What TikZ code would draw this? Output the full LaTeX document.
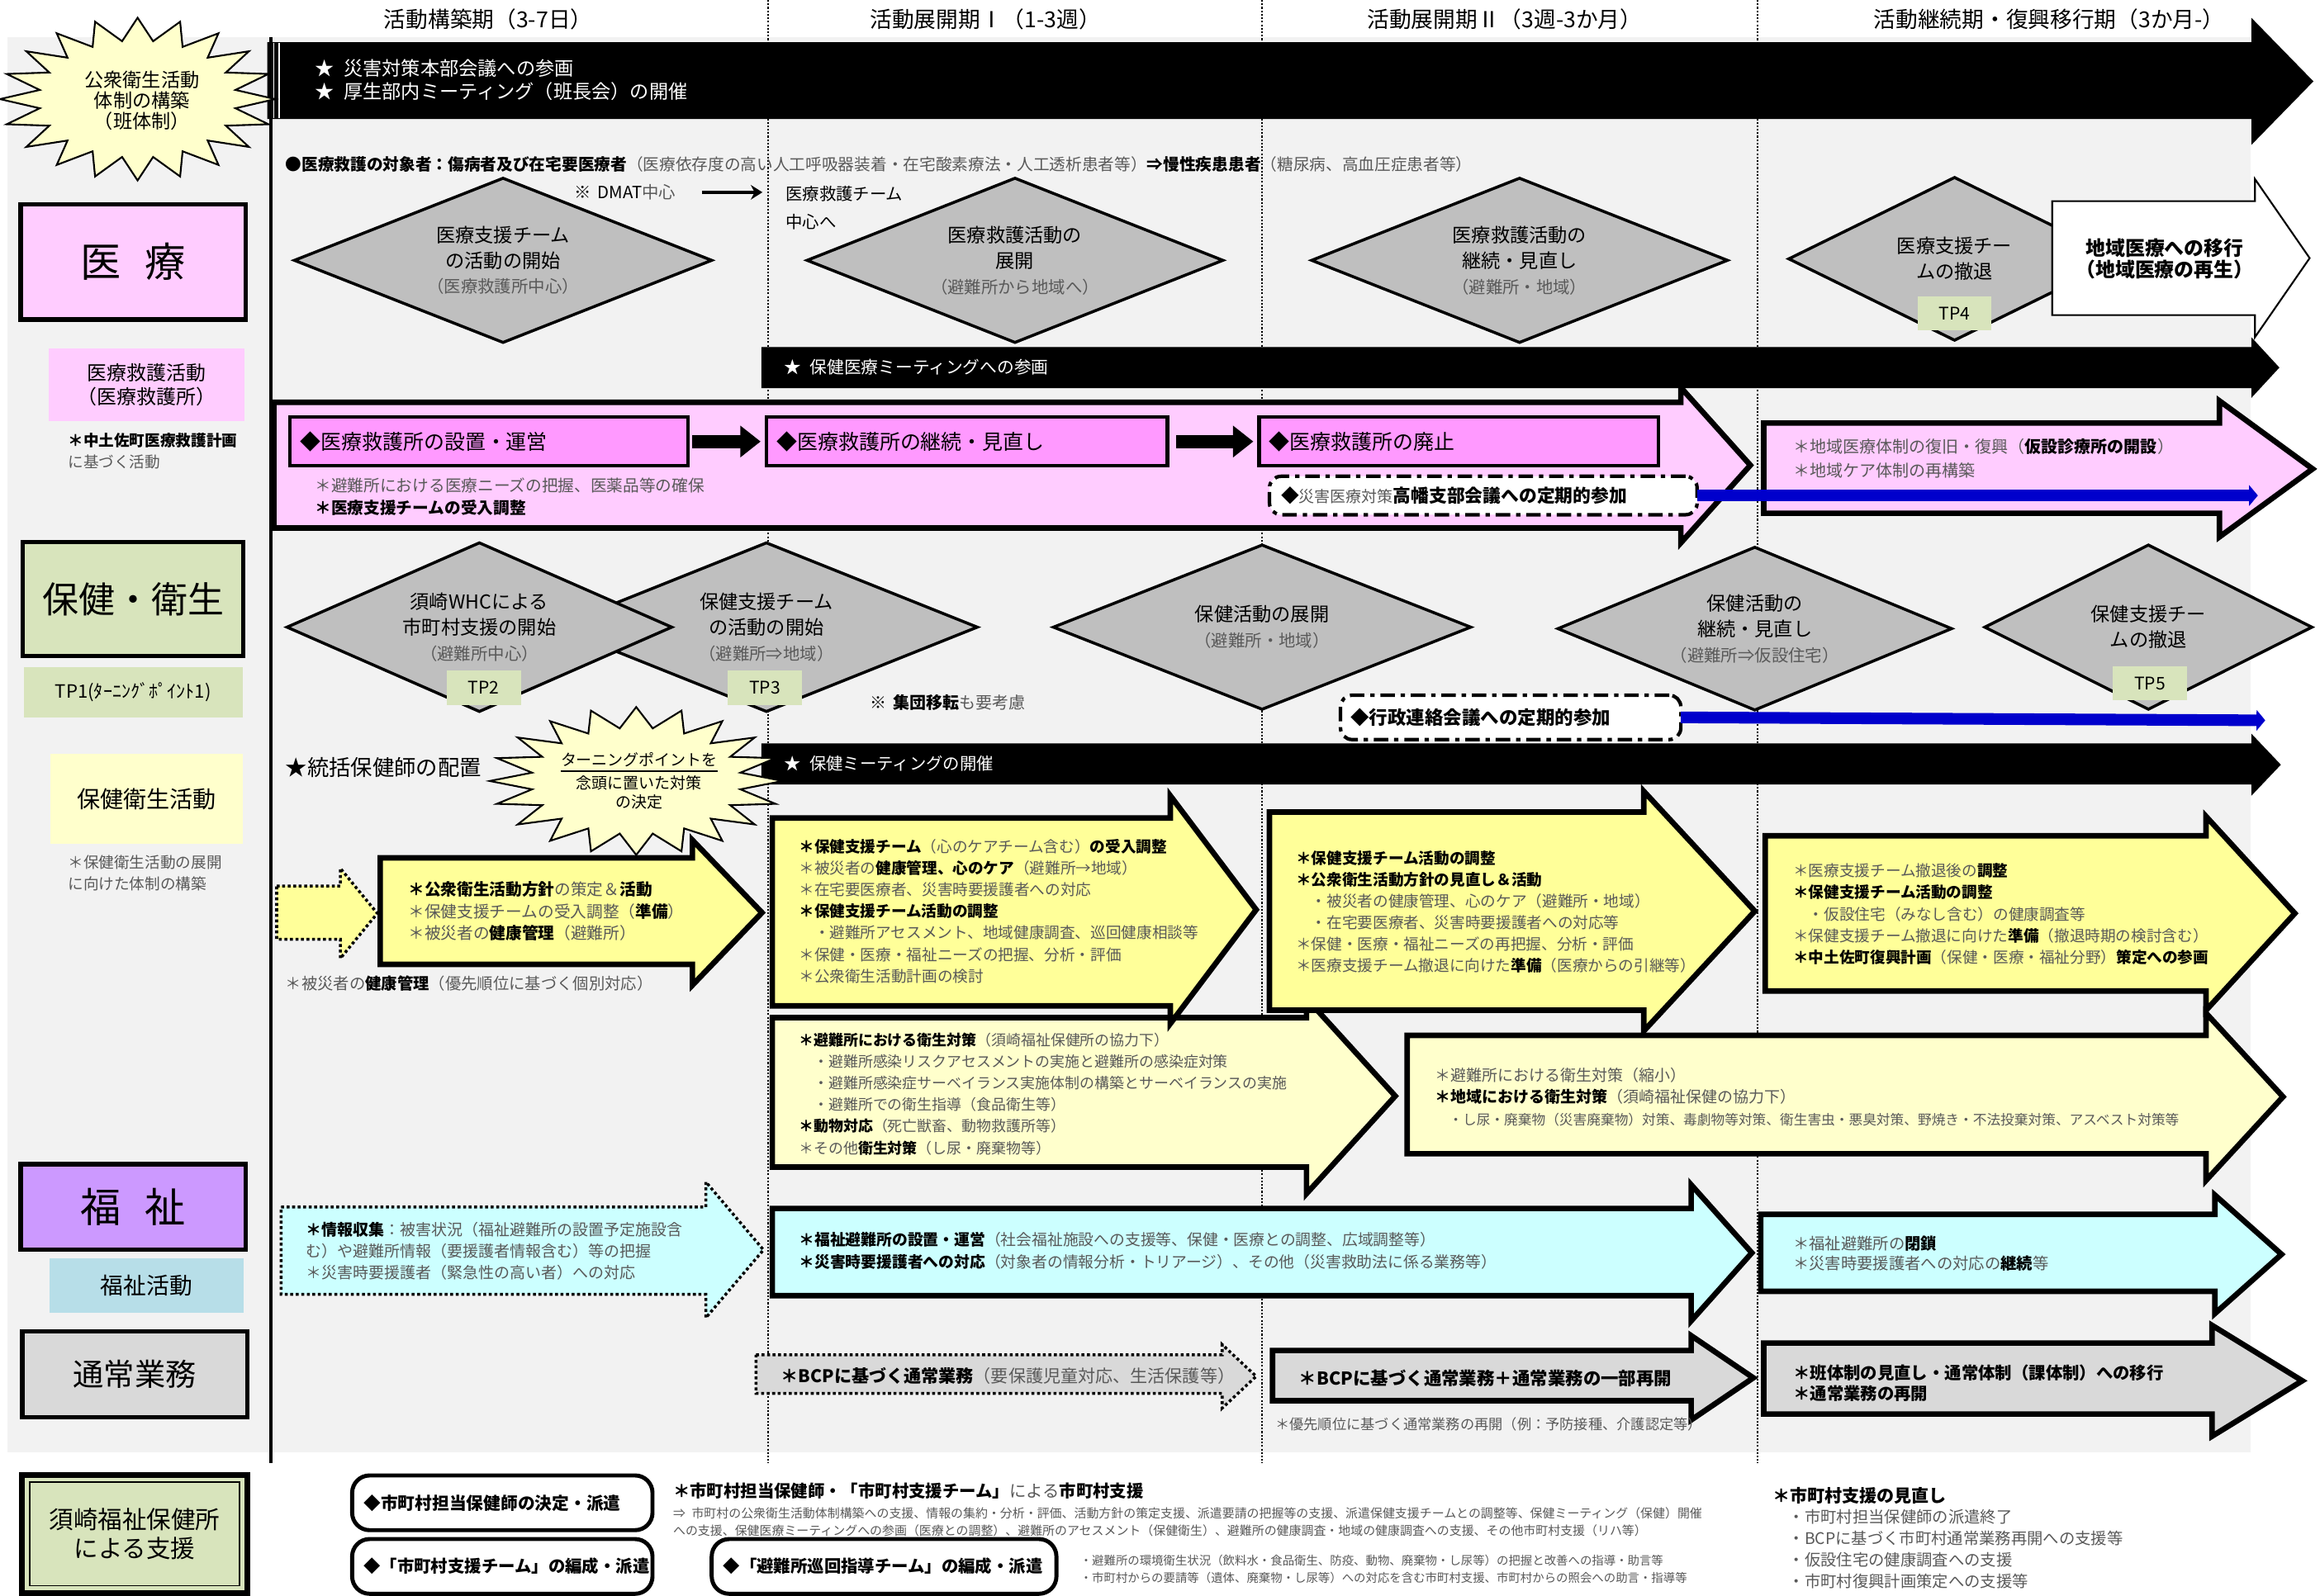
\documentclass[tikz,border=0pt]{standalone}
\usepackage{fontspec}
\setmainfont{Noto Sans CJK JP}
\usetikzlibrary{shapes.geometric,arrows.meta}

\definecolor{panel}{HTML}{F2F2F2}
\definecolor{pinkbg}{HTML}{FFCCFF}
\definecolor{pinkbox}{HTML}{FF99FF}
\definecolor{tpgreen}{HTML}{D8E4BC}
\definecolor{yel}{HTML}{FFFF99}
\definecolor{lyel}{HTML}{FFFFCC}
\definecolor{purp}{HTML}{CC99FF}
\definecolor{ltblue}{HTML}{B7DEE8}
\definecolor{cyanbg}{HTML}{CCFFFF}
\definecolor{graybg}{HTML}{D9D9D9}
\definecolor{diagray}{HTML}{BFBFBF}
\definecolor{bluec}{HTML}{0000CC}
\definecolor{txtgray}{HTML}{595959}

\newcommand{\pxu}{0.017915cm}
\newcommand{\fs}[2]{\fontsize{#1pt}{#2pt}\selectfont}
\newcommand{\gr}[1]{\textcolor{txtgray}{#1}}
% block arrow: [style] left, top, bottom, head x, head top, head bottom, tip x
\newcommand{\barrow}[8][]{%
  \draw[#1] (#2,#3) -- (#5,#3) -- (#5,#6) -- (#8,{(#6+#7)/2}) -- (#5,#7) -- (#5,#4) -- (#2,#4) -- cycle;}
% starburst outline: cx, cy, rx, ry
\newcommand{\burst}[4]{%
  \draw[burst] plot[variable=\k, samples at={0,...,39}] ({#1+(1-0.28*mod(\k,2))*#3*cos(\k*9)},{#2+(1-0.28*mod(\k,2))*#4*sin(\k*9)}) -- cycle;}

\begin{document}
\begin{tikzpicture}[x=\pxu, y=-\pxu,
  every node/.style={inner sep=0pt, outer sep=0pt},
  hdr/.style={font=\fs{7.6}{9}},
  lbl/.style={draw, line width=1.5pt},
  dia/.style={diamond, draw, fill=diagray, line width=1pt},
  dtxt/.style={align=center, font=\fs{6.6}{8.8}},
  tp/.style={fill=tpgreen, minimum width=50*\pxu, minimum height=23*\pxu, font=\fs{6}{7}},
  note/.style={anchor=west, align=left},
  wtxt/.style={anchor=west, text=white},
  burst/.style={fill=lyel, draw, line width=0.6pt},
  thickarr/.style={draw, line width=1.9pt},
  dotarr/.style={draw, line width=1pt, dash pattern=on 1pt off 0.9pt},
  pbox/.style={fill=pinkbox, draw, line width=1.2pt, minimum height=33*\pxu},
  ptxt/.style={anchor=west, font=\fs{7.1}{8}},
  ddbox/.style={fill=white, draw, line width=1.2pt, rounded corners=4pt, dash pattern=on 5pt off 2pt on 1.5pt off 2pt},
  rbox/.style={fill=white, draw, line width=1.4pt, rounded corners=6pt},
  blkarr/.style={line width=4.6pt, -{Triangle[length=7pt,width=10.5pt]}},
  bluearr/.style={draw=bluec, line width=4pt, -{Triangle[length=3pt,width=7pt]}},
  divider/.style={line width=0.5pt, dash pattern=on 0.6pt off 0.6pt}]

\useasboundingbox (0,0) rectangle (1568,1079);
\fill[white] (0,0) rectangle (1568,1079);
\fill[panel] (5,25) rectangle (1521,982);
\foreach \xx in {519,853,1188} \draw[divider] (\xx,0) -- (\xx,989);
\draw[line width=1.3pt] (183,25) -- (183,989);

% phases
\node[hdr] (h1) at (330,13) {活動構築期（3-7日）};
\node[hdr] (h2) at (666,13) {活動展開期Ⅰ（1-3週）};
\node[hdr] (h3) at (1017,13) {活動展開期Ⅱ（3週-3か月）};
\node[hdr] (h4) at (1385,13) {活動継続期・復興移行期（3か月-）};

% top bar
\barrow[fill=black]{181}{29}{80}{1522}{13}{97}{1563}
\draw[white, line width=0.5pt] (185,29) -- (185,80) (188.5,29) -- (188.5,80);
\node[wtxt, font=\fs{6.6}{8}] (b1) at (213,46) {★\hspace{0.5em}災害対策本部会議への参画};
\node[wtxt, font=\fs{6.6}{8}] (b2) at (213,62) {★\hspace{0.5em}厚生部内ミーティング（班長会）の開催};

\burst{93}{67}{93}{55}
\node[align=center, font=\fs{6.6}{7.1}] (s1) at (96,68) {公衆衛生活動\\体制の構築\\（班体制）};

% row labels
\node[lbl, fill=pinkbg, minimum width=152*\pxu, minimum height=78*\pxu, font=\fs{14}{16}] (iryo) at (90,177) {医\hspace{0.6em}療};
\node[fill=pinkbg, minimum width=132*\pxu, minimum height=49*\pxu, align=center, font=\fs{6.8}{8.2}] (iryolab) at (99,260) {医療救護活動\\（医療救護所）};
\node[note, font=\fs{5.3}{7.6}] (iryonote) at (46,305) {\textbf{＊中土佐町医療救護計画}\\\gr{に基づく活動}};
\node[lbl, fill=tpgreen, minimum width=149*\pxu, minimum height=77*\pxu, font=\fs{12.5}{14}] (hoken) at (90,405) {保健・衛生};
\node[fill=tpgreen, minimum width=148*\pxu, minimum height=34*\pxu, font=\fs{6.3}{7}] (tp1) at (90,468) {TP1(ﾀｰﾆﾝｸﾞﾎﾟｲﾝﾄ1)};
\node[fill=lyel, minimum width=130*\pxu, minimum height=61*\pxu, font=\fs{8}{9}] (hokenlab) at (99,540) {保健衛生活動};
\node[note, font=\fs{5.3}{7.4}] (hokennote) at (46,590) {\gr{＊保健衛生活動の展開}\\\gr{に向けた体制の構築}};
\node[lbl, fill=purp, minimum width=152*\pxu, minimum height=58*\pxu, font=\fs{14}{16}] (fuku) at (90,816) {福\hspace{0.6em}祉};
\node[fill=ltblue, minimum width=131*\pxu, minimum height=37*\pxu, font=\fs{7.9}{9}] (fukulab) at (99,869) {福祉活動};
\node[lbl, fill=graybg, minimum width=152*\pxu, minimum height=58*\pxu, font=\fs{10.6}{12}] (tsujo) at (91,929) {通常業務};
\node[lbl, line width=2pt, fill=tpgreen, minimum width=152*\pxu, minimum height=80*\pxu, align=center, font=\fs{8.4}{10.2}] (susaki) at (91,1037) {須崎福祉保健所\\による支援};
\draw[line width=0.5pt] ([shift={(5,5)}]susaki.north west) rectangle ([shift={(-5,-5)}]susaki.south east);

% medical row
\node[note, font=\fs{5.6}{7}] (target) at (193,111) {\textbf{●医療救護の対象者：傷病者及び在宅要医療者}\gr{（医療依存度の高い人工呼吸器装着・在宅酸素療法・人工透析患者等）}\textbf{⇒慢性疾患患者}\gr{（糖尿病、高血圧症患者等）}};
\node[note, font=\fs{5.8}{7}] (dmat) at (388,130) {※\hspace{0.4em}DMAT\gr{中心}};
\node[note, font=\fs{5.8}{9.7}] (kyugo) at (531,140.5) {医療救護チーム\\中心へ};
\draw[line width=1.2pt, -{Stealth[length=4pt,width=5pt]}, shorten <=9pt, shorten >=8pt] (dmat.east) -- (dmat.east -| kyugo.west);

\node[dia, minimum width=282*\pxu, minimum height=111*\pxu] (d1) at (340,176) {};
\node[dtxt] (t1) at (d1) {医療支援チーム\\の活動の開始\\{\fs{5.8}{8.8}\gr{（医療救護所中心）}}};
\node[dia, minimum width=281*\pxu, minimum height=111*\pxu] (d2) at (686,176) {};
\node[dtxt] (t2) at (d2) {医療救護活動の\\展開\\{\fs{5.8}{8.8}\gr{（避難所から地域へ）}}};
\node[dia, minimum width=281*\pxu, minimum height=111*\pxu] (d3) at (1027,176) {};
\node[dtxt] (t3) at (d3) {医療救護活動の\\継続・見直し\\{\fs{5.8}{8.8}\gr{（避難所・地域）}}};
\node[dia, minimum width=224*\pxu, minimum height=110*\pxu] (d4) at (1321,175) {};
\node[dtxt] (t4) at (d4) {医療支援チー\\ムの撤退};
\node[tp] (tp4) at (1321,212) {TP4};
\barrow[fill=white, draw, line width=0.6pt]{1387}{136}{213}{1524}{121}{228}{1561}
\node[align=center, font=\bfseries\fs{6.8}{7.6}] (chiiki) at (1463,175) {地域医療への移行\\（地域医療の再生）};

\barrow[fill=black]{515}{235}{262}{1522}{229}{268}{1540}
\node[wtxt, font=\fs{5.9}{7}] (m1) at (530,248) {★\hspace{0.5em}保健医療ミーティングへの参画};

\barrow[thickarr, fill=pinkbg]{185}{272}{357}{1136}{262}{367}{1183}
\node[pbox, minimum width=269*\pxu] (pb1) at (330.5,298.5) {};
\node[ptxt] (pt1) at ([xshift=3.5pt]pb1.west) {◆医療救護所の設置・運営};
\node[pbox, minimum width=271*\pxu] (pb2) at (653.5,298.5) {};
\node[ptxt] (pt2) at ([xshift=3.5pt]pb2.west) {◆医療救護所の継続・見直し};
\node[pbox, minimum width=270*\pxu] (pb3) at (986,298.5) {};
\node[ptxt] (pt3) at ([xshift=3.5pt]pb3.west) {◆医療救護所の廃止};
\draw[blkarr, shorten <=1.5pt, shorten >=2pt] (pb1.east) -- (pb2.west);
\draw[blkarr, shorten <=3pt, shorten >=2pt] (pb2.east) -- (pb3.west);
\node[note, font=\fs{5.6}{7.6}] (pnote) at (213,336) {\gr{＊避難所における医療ニーズの把握、医薬品等の確保}\\\textbf{＊医療支援チームの受入調整}};

\barrow[thickarr, fill=pinkbg]{1192}{286}{347}{1500}{271}{363}{1563}
\node[note, font=\fs{5.7}{8.1}] (p2note) at (1212,310) {\gr{＊地域医療体制の復旧・復興（}\textbf{仮設診療所の開設}\gr{）}\\\gr{＊地域ケア体制の再構築}};

\node[ddbox, minimum width=289*\pxu, minimum height=26*\pxu] (kb1) at (1002.5,335) {};
\node[anchor=west, font=\fs{6.2}{7}] (kt1) at ([xshift=4pt]kb1.west) {◆{\fs{5.4}{7}\gr{災害医療対策}}\textbf{高幡支部会議への定期的参加}};
\coordinate (bt1) at (1526,335);
\draw[bluearr] (kb1.east) -- (bt1);

% health row
\node[dia, minimum width=285*\pxu, minimum height=114*\pxu] (d6) at (518,424) {};
\node[dia, minimum width=260*\pxu, minimum height=114*\pxu] (d5) at (324,424) {};
\node[dtxt] (t5) at (d5) {須崎WHCによる\\市町村支援の開始\\{\fs{5.8}{8.8}\gr{（避難所中心）}}};
\node[dtxt] (t6) at (d6) {保健支援チーム\\の活動の開始\\{\fs{5.8}{8.8}\gr{（避難所⇒地域）}}};
\node[tp] (tp2) at (327,465) {TP2};
\node[tp] (tp3) at (517,465) {TP3};
\node[note, font=\fs{5.7}{7}] (shudan) at (588,475) {\textbf{※\hspace{0.4em}集団移転}\gr{も要考慮}};
\node[dia, minimum width=282*\pxu, minimum height=111*\pxu] (d7) at (853,424) {};
\node[dtxt] (t7) at (d7) {保健活動の展開\\{\fs{5.8}{8.8}\gr{（避難所・地域）}}};
\node[dia, minimum width=266*\pxu, minimum height=110*\pxu] (d8) at (1186,425) {};
\node[dtxt] (t8) at (d8) {保健活動の\\継続・見直し\\{\fs{5.8}{8.8}\gr{（避難所⇒仮設住宅）}}};
\node[dia, minimum width=221*\pxu, minimum height=111*\pxu] (d9) at (1452,424) {};
\node[dtxt] (t9) at (d9) {保健支援チー\\ムの撤退};
\node[tp] (tp5) at (1453,462) {TP5};

\node[ddbox, minimum width=230*\pxu, minimum height=30*\pxu] (kb2) at (1021,485) {};
\node[anchor=west, font=\fs{6.4}{7}] (kt2) at ([xshift=3.5pt]kb2.west) {\textbf{◆行政連絡会議への定期的参加}};
\coordinate (bt2) at (1531,487);
\draw[bluearr] (kb2.east) -- (bt2);

\barrow[fill=black]{515}{503}{530}{1522}{497}{537}{1541}
\node[wtxt, font=\fs{5.8}{7}] (m2) at (530,516) {★\hspace{0.5em}保健ミーティングの開催};
\node[note, font=\fs{7.5}{8}] (haichi) at (193,519) {★統括保健師の配置};
\burst{430}{528}{99}{50}
\node[align=center, font=\fs{5.4}{6.6}] (s2) at (432,528) {\underline{ターニングポイントを}\\念頭に置いた対策\\の決定};

% health activities
\barrow[dotarr, fill=yel]{187}{599}{635}{230}{587}{648}{255}
\barrow[thickarr, fill=yel]{257}{580}{652}{468}{568}{666}{515}
\node[note, font=\fs{5.6}{7.65}] (ta) at (276,616) {\textbf{＊公衆衛生活動方針}\gr{の策定＆}\textbf{活動}\\\gr{＊保健支援チームの受入調整（}\textbf{準備}\gr{）}\\\gr{＊被災者の}\textbf{健康管理}\gr{（避難所）}};
\node[note, font=\fs{5.5}{7}] (tanote) at (193,665) {\gr{＊被災者の}\textbf{健康管理}\gr{（優先順位に基づく個別対応）}};

\barrow[thickarr, fill=lyel]{522}{688}{789}{883}{675}{807}{943}
\node[note, font=\fs{5.1}{7.45}] (te) at (540,739.5) {\textbf{＊避難所における衛生対策}\gr{（須崎福祉保健所の協力下）}\\
\gr{\hspace*{1em}・避難所感染リスクアセスメントの実施と避難所の感染症対策}\\
\gr{\hspace*{1em}・避難所感染症サーベイランス実施体制の構築とサーベイランスの実施}\\
\gr{\hspace*{1em}・避難所での衛生指導（食品衛生等）}\\
\textbf{＊動物対応}\gr{（死亡獣畜、動物救護所等）}\\
\gr{＊その他}\textbf{衛生対策}\gr{（し尿・廃棄物等）}};
\barrow[thickarr, fill=lyel]{951}{700}{780}{1491}{685}{798}{1543}
\node[note, font=\fs{5.4}{7.5}] (tf) at (970,741.5) {\gr{＊避難所における衛生対策（縮小）}\\
\textbf{＊地域における衛生対策}\gr{（須崎福祉保健の協力下）}\\
{\fs{4.75}{7.5}\gr{\hspace*{1em}・し尿・廃棄物（災害廃棄物）対策、毒劇物等対策、衛生害虫・悪臭対策、野焼き・不法投棄対策、アスベスト対策等}}};

\barrow[thickarr, fill=yel]{522}{553}{680}{791}{538}{692}{849}
\node[note, font=\fs{5.3}{7.45}] (tb) at (540,616) {\textbf{＊保健支援チーム}\gr{（心のケアチーム含む）}\textbf{の受入調整}\\
\gr{＊被災者の}\textbf{健康管理、心のケア}\gr{（避難所→地域）}\\
\gr{＊在宅要医療者、災害時要援護者への対応}\\
\textbf{＊保健支援チーム活動の調整}\\
\gr{\hspace*{1em}・避難所アセスメント、地域健康調査、巡回健康相談等}\\
\gr{＊保健・医療・福祉ニーズの把握、分析・評価}\\
\gr{＊公衆衛生活動計画の検討}};
\barrow[thickarr, fill=yel]{858}{549}{683}{1111}{535}{697}{1186}
\node[note, font=\fs{5.3}{7.45}] (tc) at (876,616.5) {\textbf{＊保健支援チーム活動の調整}\\
\textbf{＊公衆衛生活動方針の見直し＆活動}\\
\gr{\hspace*{1em}・被災者の健康管理、心のケア（避難所・地域）}\\
\gr{\hspace*{1em}・在宅要医療者、災害時要援護者への対応等}\\
\gr{＊保健・医療・福祉ニーズの再把握、分析・評価}\\
\gr{＊医療支援チーム撤退に向けた}\textbf{準備}\gr{（医療からの引継等）}};
\barrow[thickarr, fill=yel]{1193}{565}{670}{1491}{552}{683}{1551}
\node[note, font=\fs{5.3}{7.45}] (td) at (1212,618) {\gr{＊医療支援チーム撤退後の}\textbf{調整}\\
\textbf{＊保健支援チーム活動の調整}\\
\gr{\hspace*{1em}・仮設住宅（みなし含む）の健康調査等}\\
\gr{＊保健支援チーム撤退に向けた}\textbf{準備}\gr{（撤退時期の検討含む）}\\
\textbf{＊中土佐町復興計画}\gr{（保健・医療・福祉分野）}\textbf{策定への参画}};

% welfare
\barrow[dotarr, fill=cyanbg]{190}{816}{875}{477}{799}{891}{516}
\node[note, font=\fs{5.4}{7.4}] (tg) at (207,846) {\textbf{＊情報収集}\gr{：被害状況（福祉避難所の設置予定施設含}\\
\gr{む）や避難所情報（要援護者情報含む）等の把握}\\
\gr{＊災害時要援護者（緊急性の高い者）への対応}};
\barrow[thickarr, fill=cyanbg]{522}{817}{876}{1143}{801}{893}{1184}
\node[note, font=\fs{5.35}{7.6}] (th) at (540,845.5) {\textbf{＊福祉避難所の設置・運営}\gr{（社会福祉施設への支援等、保健・医療との調整、広域調整等）}\\
\textbf{＊災害時要援護者への対応}\gr{（対象者の情報分析・トリアージ）、その他（災害救助法に係る業務等）}};
\barrow[thickarr, fill=cyanbg]{1190}{821}{873}{1497}{808}{888}{1542}
\node[note, font=\fs{5.5}{7}] (ti) at (1212,847.5) {\gr{＊福祉避難所の}\textbf{閉鎖}\\\gr{＊災害時要援護者への対応の}\textbf{継続}\gr{等}};

% routine work
\barrow[dotarr, fill=graybg]{511}{916}{942}{826}{909}{952}{849}
\node[note, font=\fs{6}{7}] (tj) at (528,930) {\textbf{＊BCPに基づく通常業務}\gr{（要保護児童対応、生活保護等）}};
\barrow[thickarr, fill=graybg]{860}{913}{947}{1143}{903}{960}{1185}
\node[note, font=\fs{6.1}{7}] (tk) at (878,932) {\textbf{＊BCPに基づく通常業務＋通常業務の一部再開}};
\node[note, font=\fs{4.9}{6}] (tknote) at (862,963) {\gr{＊優先順位に基づく通常業務の再開（例：予防接種、介護認定等）}};
\barrow[thickarr, fill=graybg]{1192}{908}{956}{1495}{896}{971}{1556}
\node[note, font=\fs{5.8}{7.1}] (tl) at (1212,935) {\textbf{＊班体制の見直し・通常体制（課体制）への移行}\\\textbf{＊通常業務の再開}};

% support by health office
\node[rbox, minimum width=203*\pxu, minimum height=37*\pxu] (rb1) at (339.5,1016) {};
\node[anchor=west, font=\fs{5.9}{7}] (rt1) at ([xshift=4pt]rb1.west) {\textbf{◆市町村担当保健師の決定・派遣}};
\node[rbox, minimum width=203*\pxu, minimum height=37*\pxu] (rb2) at (339.5,1059) {};
\node[anchor=west, font=\fs{5.8}{7}] (rt2) at ([xshift=4pt]rb2.west) {\textbf{◆「市町村支援チーム」の編成・派遣}};
\node[rbox, minimum width=233*\pxu, minimum height=37*\pxu] (rb3) at (597.5,1059) {};
\node[anchor=west, font=\fs{5.8}{7}] (rt3) at ([xshift=4pt]rb3.west) {\textbf{◆「避難所巡回指導チーム」の編成・派遣}};
\node[note, font=\fs{5.8}{7}] (sien) at (455,1008) {\textbf{＊市町村担当保健師・「市町村支援チーム」}\gr{による}\textbf{市町村支援}};
\node[note, font=\fs{4.25}{6.1}] (sien2) at (455,1029) {\gr{⇒\hspace{0.5em}市町村の公衆衛生活動体制構築への支援、情報の集約・分析・評価、活動方針の策定支援、派遣要請の把握等の支援、派遣保健支援チームとの調整等、保健ミーティング（保健）開催}\\
\gr{への支援、保健医療ミーティングへの参画（医療との調整）、避難所のアセスメント（保健衛生）、避難所の健康調査・地域の健康調査への支援、その他市町村支援（リハ等）}};
\node[note, font=\fs{4.1}{6.1}] (junkai) at (730,1061) {\gr{・避難所の環境衛生状況（飲料水・食品衛生、防疫、動物、廃棄物・し尿等）の把握と改善への指導・助言等}\\
\gr{・市町村からの要請等（遺体、廃棄物・し尿等）への対応を含む市町村支援、市町村からの照会への助言・指導等}};
\node[note, font=\fs{6}{7}] (minaoshi) at (1198,1011) {\textbf{＊市町村支援の見直し}};
\node[note, font=\fs{5.5}{7.4}] (minaoshi2) at (1209,1047.5) {\gr{・市町村担当保健師の派遣終了}\\\gr{・BCPに基づく市町村通常業務再開への支援等}\\\gr{・仮設住宅の健康調査への支援}\\\gr{・市町村復興計画策定への支援等}};
\end{tikzpicture}
\end{document}
